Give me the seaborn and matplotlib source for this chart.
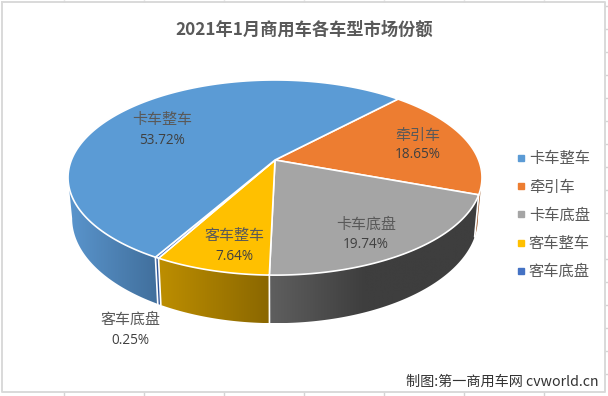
import numpy as np
import matplotlib
matplotlib.use('Agg')
import matplotlib.pyplot as plt
from matplotlib.lines import Line2D
from matplotlib.patches import Polygon
import seaborn as sns

# chart data
title = '2021年1月商用车各车型市场份额'
footer = '制图:第一商用车网 cvworld.cn'
categories = ['卡车整车', '牵引车', '卡车底盘', '客车整车', '客车底盘']
shares = [53.72, 18.65, 19.74, 7.64, 0.25]

# draw order goes clockwise from the orange slice
draw_order = [1, 2, 3, 4, 0]
start_angle = -46.9

top_colors = ['#5b9bd5', '#ed7d31', '#a5a5a5', '#ffc000', '#4472c4']
side_left = ['#5a95cd', '#8c4a1d', '#5f5f5f', '#bd8e00', '#2f5597']
side_right = ['#416f9c', '#a85a24', '#3e3e3e', '#8a6700', '#2f5597']

label_pos = [(162, 120), (418, 136), (366, 225), (234, 236), (130, 320)]
value_pos = [(162, 141), (418, 155), (366, 244), (234, 256), (130, 340)]

sns.set_theme(style='white')
CJK = ['Noto Sans CJK SC', 'DejaVu Sans']
plt.rcParams['font.family'] = CJK

# pie geometry in pixels, with a perspective term
cx, cy = 275.0, 160.0
rx, ry = 203.6, 94.4
persp = 0.18
depth = 39.4
shrink = 0.98


def top_xy(theta):
    w = 1 - persp * np.sin(theta)
    return cx + rx * np.cos(theta) / w, cy + ry * np.sin(theta) / w


def bottom_xy(theta):
    w = 1 - persp * np.sin(theta)
    x, y = top_xy(theta)
    return cx + (x - cx) * shrink, y + depth / w


def slice_ranges():
    ranges = {}
    a = start_angle
    for i in draw_order:
        span = shares[i] / sum(shares) * 360
        ranges[i] = (np.radians(a), np.radians(a + span))
        a += span
    return ranges


def mix(c1, c2, t):
    c1 = np.array(matplotlib.colors.to_rgb(c1))
    c2 = np.array(matplotlib.colors.to_rgb(c2))
    return c1 * (1 - t) + c2 * t


def draw_side(ax, idx, t0, t1):
    # only the front of the ring shows, cut it at the silhouette
    edge = np.arcsin(persp)
    if idx == 0:
        t1 = np.pi - edge
    if idx == 1:
        t0 = edge
    th = np.linspace(t0, t1, 200)
    xt, yt = top_xy(th)
    xb, yb = bottom_xy(th)
    outline = np.c_[np.r_[xt, xb[::-1]], np.r_[yt, yb[::-1]]]
    x_lo, x_hi = outline[:, 0].min(), outline[:, 0].max()
    y_lo, y_hi = outline[:, 1].min(), outline[:, 1].max()

    # horizontal shading, clipped to the ring piece
    steps = np.linspace(0, 1, 256)
    if idx == 2:
        steps = np.minimum(steps * 2.2, 1)
    grad = np.array([[mix(side_left[idx], side_right[idx], s) for s in steps]])
    img = ax.imshow(grad, extent=(x_lo, x_hi, y_hi, y_lo), aspect='auto',
                    interpolation='bilinear', zorder=2)
    img.set_clip_path(Polygon(outline, transform=ax.transData))


def draw_pie(ax):
    ranges = slice_ranges()
    for i in [1, 0, 2, 3, 4]:
        draw_side(ax, i, *ranges[i])
    # white joins on the ring
    for i in [1, 2, 3, 4]:
        t = ranges[i][1]
        xa, ya = top_xy(t)
        xb, yb = bottom_xy(t)
        ax.plot([xa, xb], [ya, yb], color='white', lw=1.2, zorder=3)
    for i in draw_order:
        t0, t1 = ranges[i]
        th = np.linspace(t0, t1, 200)
        x, y = top_xy(th)
        ax.fill(np.r_[cx, x], np.r_[cy, y], facecolor=top_colors[i],
                edgecolor='white', lw=1.2, joinstyle='round', zorder=4)


def draw_frame(ax):
    # worksheet grid showing around the chart area
    grid = '#d4d4d4'
    ax.vlines(np.arange(64, 608, 80), 0, 2, color=grid, lw=1)
    ax.vlines(np.arange(64, 608, 80), 392, 396, color=grid, lw=1)
    ax.hlines(np.arange(6, 396, 23), 605, 608, color=grid, lw=1)
    ax.plot([1.5, 605, 605, 1.5, 1.5], [1.5, 1.5, 392, 392, 1.5], color='#d9d9d9', lw=1.4)


def main():
    fig = plt.figure(figsize=(6.08, 3.96), dpi=100)
    ax = fig.add_axes([0, 0, 1, 1])

    draw_frame(ax)
    draw_pie(ax)
    ax.set_xlim(0, 608)
    ax.set_ylim(396, 0)
    ax.axis('off')

    ax.text(304, 29.5, title, ha='center', va='center', fontsize=12.4,
            fontweight='bold', color='#595959')
    for i, name in enumerate(categories):
        ax.text(*label_pos[i], name, ha='center', va='center', fontsize=10.8,
                color='#595959', zorder=6)
        ax.text(*value_pos[i], f'{shares[i]:.2f}%', ha='center', va='center', fontsize=9.8,
                family=['Open Sans'], color='#404040', zorder=6)

    handles = [Line2D([], [], marker='s', ls='', ms=4.6, color=c) for c in top_colors]
    ax.legend(handles, categories, loc='upper left', bbox_to_anchor=(517 / 608, 1 - 150.5 / 396),
              frameon=False, fontsize=11, labelcolor='#595959', handlelength=0.5,
              handletextpad=0.28, labelspacing=0.73, borderpad=0, borderaxespad=0)

    ax.text(599, 382, footer, ha='right', va='center', fontsize=10.2, color='#333333', zorder=6)

    fig.savefig('out.png', dpi=100)
    plt.close(fig)


if __name__ == '__main__':
    main()
